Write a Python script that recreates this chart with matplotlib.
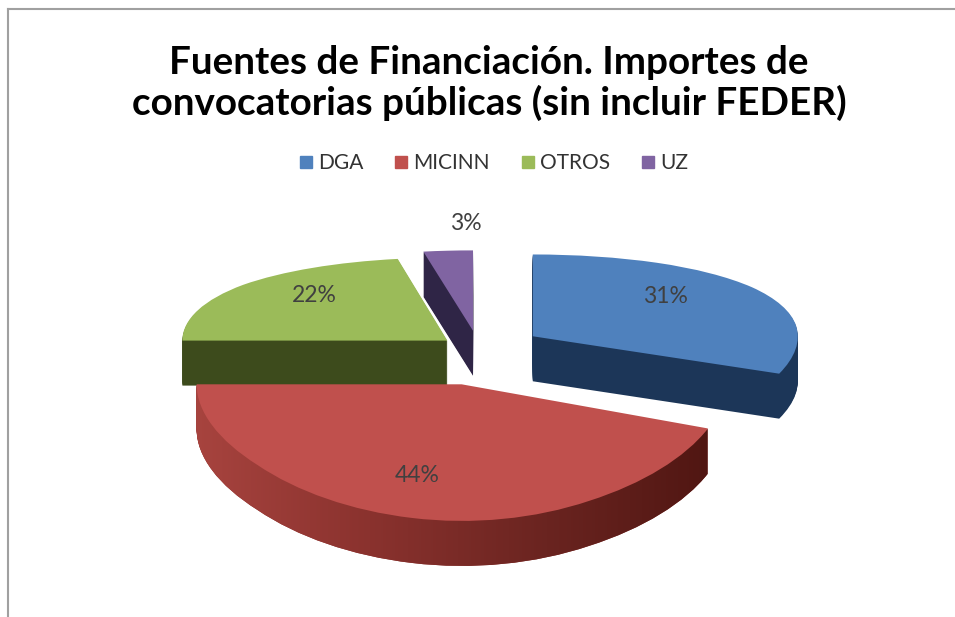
import numpy as np
import matplotlib
matplotlib.use("Agg")
import matplotlib.pyplot as plt
import matplotlib.transforms as mtransforms
from matplotlib.lines import Line2D
from matplotlib.colors import LinearSegmentedColormap

# data
labels = ['DGA', 'MICINN', 'OTROS', 'UZ']
shares = [31, 44, 22, 3]

# style
top_colors = ['#4F81BD', '#C0504D', '#9BBB59', '#8064A2']
side_colors = ['#1C3658', '#8E322E', '#3D4B1C', '#2F2546']
explode = [0.25, 0.33, 0.15, 0.2]

plt.rcParams['font.family'] = ['Lato', 'DejaVu Sans']

fig = plt.figure(figsize=(9.55, 6.17), dpi=100)
ax = fig.add_axes([0, 0, 1, 1])

# side of the 3d pie: stacked copies shifted down in pixels
depth_px = 45
n_layers = 45
layers = []
for k in range(n_layers, 0, -1):
    wedges, _ = ax.pie(shares, explode=explode, colors=side_colors,
                       startangle=90, counterclock=False,
                       wedgeprops=dict(linewidth=0))
    off = mtransforms.ScaledTranslation(0, -k * depth_px / n_layers / 100,
                                        fig.dpi_scale_trans)
    for w in wedges:
        w.set_transform(ax.transData + off)
    layers.append(wedges)

# shading on the front face of MICINN
grad = np.linspace(0, 1, 256).reshape(1, -1)
side_cmap = LinearSegmentedColormap.from_list(
    'side', ['#A8443F', '#8A322E', '#6A2420', '#4E1511'])
for wedges in layers:
    im = ax.imshow(grad, cmap=side_cmap, extent=(0.2, 0.76, 0, 1),
                   transform=ax.transAxes, aspect='auto', zorder=1.5)
    im.set_clip_path(wedges[1])

# top faces
wedges, texts, autotexts = ax.pie(
    shares, explode=explode, colors=top_colors, startangle=90,
    counterclock=False, autopct='%1.0f%%', pctdistance=0.65,
    textprops=dict(color='#404040', fontsize=16.5),
    wedgeprops=dict(linewidth=0, zorder=2))
for t in autotexts:
    t.set_zorder(3)

# small slice label sits outside, above the slice
total = sum(shares)
mid = 90 - 360 * (sum(shares[:3]) + shares[3] / 2) / total
ang = np.deg2rad(mid)
r = explode[3] + 1.42
autotexts[3].set_position((r * np.cos(ang), r * np.sin(ang)))
autotexts[3].set_transform(ax.transData + mtransforms.ScaledTranslation(
    0.28, 0, fig.dpi_scale_trans))
# nudge the big labels a little
autotexts[0].set_transform(ax.transData + mtransforms.ScaledTranslation(
    -0.1, 0.07, fig.dpi_scale_trans))
autotexts[1].set_transform(ax.transData + mtransforms.ScaledTranslation(
    -0.12, -0.1, fig.dpi_scale_trans))
autotexts[2].set_transform(ax.transData + mtransforms.ScaledTranslation(
    0, 0.08, fig.dpi_scale_trans))

# perspective-like squash of the y axis (back compressed, front stretched)
a = 0.17


def fwd(y):
    return y / (1 + a * y)


def inv(s):
    return s / (1 - a * s)


ax.set_aspect('auto')
ax.set_yscale('function', functions=(fwd, inv))
ax.set_xlim(-478 / 265, 477 / 265)
ax.set_ylim(inv(-2.67), inv(3.5))
ax.axis('off')

# title and legend
fig.text(0.512, 1 - 83 / 617,
         'Fuentes de Financiación. Importes de\nconvocatorias públicas (sin incluir FEDER)',
         ha='center', va='center', fontsize=27.8, fontweight='bold',
         linespacing=1.18, color='#000000')

handles = [Line2D([], [], marker='s', ls='', color=c, markersize=9)
           for c in top_colors]
fig.legend(handles, labels, loc='center', bbox_to_anchor=(0.516, 1 - 163 / 617),
           ncol=4, frameon=False, fontsize=15, handletextpad=0.2,
           columnspacing=1.4, handlelength=0.8, labelcolor='#333333')

# chart border (top and left only visible)
fig.add_artist(Line2D([8 / 955, 1], [1 - 9 / 617] * 2, transform=fig.transFigure,
                      color='#A0A0A0', lw=1.5))
fig.add_artist(Line2D([8 / 955] * 2, [0, 1 - 9 / 617], transform=fig.transFigure,
                      color='#A0A0A0', lw=1.5))

fig.savefig('out.png', dpi=100)
